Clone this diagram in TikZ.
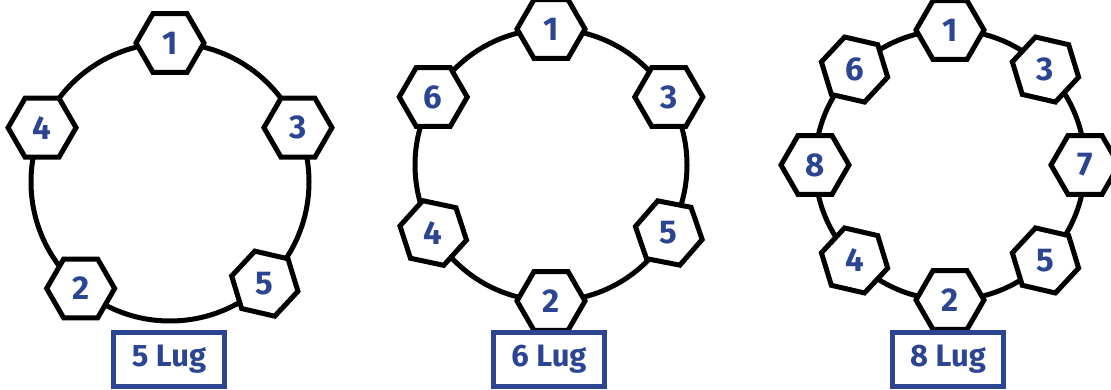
\documentclass[tikz,border=0pt]{standalone}
\usepackage{fontspec}
\setmainfont{Fira Sans}
\usepackage{xcolor}
\usetikzlibrary{shapes.geometric,positioning,calc}

\definecolor{lugblue}{HTML}{2B4592}

\tikzset{
    lug/.style={draw, line width=5pt, fill=white, regular polygon, regular polygon sides=6,
        minimum size=68pt, inner sep=0pt, text=lugblue, font=\fontsize{33}{33}\selectfont\bfseries},
    tilt/.style={regular polygon rotate=-13},
    rim/.style={draw, line width=5pt},
    caption/.style={draw=lugblue, line width=5pt, minimum width=111pt, minimum height=54pt,
        text=lugblue, font=\fontsize{31}{31}\selectfont\bfseries}
}

\begin{document}
\begin{tikzpicture}[x=1pt, y=1pt]
    \useasboundingbox (0,0) rectangle (1111,390);

    % 5 lug
    \coordinate (c5) at (170,208);
    \draw[rim] (c5) circle (139);
    \node (a1) [lug] at ($(c5)+(90:139)$) {1};
    \node (a3) [lug] at ($(c5)+(23:139)$) {3};
    \node (a5) [lug, tilt] at ($(c5)+(-47:139)$) {5};
    \node (a2) [lug] at ($(c5)+(-130:139)$) {2};
    \node (a4) [lug] at ($(c5)+(157:139)$) {4};
    \node (l5) [caption] at (169,30.5) {5 Lug};

    % 6 lug
    \coordinate (c6) at (551,225);
    \draw[rim] (c6) circle (136);
    \node (b1) [lug] at ($(c6)+(90:136)$) {1};
    \node (b3) [lug] at ($(c6)+(30:136)$) {3};
    \node (b5) [lug, regular polygon rotate=-11] at ($(c6)+(-30:136)$) {5};
    \node (b2) [lug] at ($(c6)+(-90:136)$) {2};
    \node (b4) [lug, regular polygon rotate=-12] at ($(c6)+(-150:136)$) {4};
    \node (b6) [lug] at ($(c6)+(150:136)$) {6};
    \node (l6) [caption] at (549,30.5) {6 Lug};

    % 8 lug
    \coordinate (c8) at (950,225);
    \draw[rim] (c8) circle (135);
    \node (d1) [lug] at ($(c8)+(90:135)$) {1};
    \node (d3) [lug, tilt] at ($(c8)+(45:135)$) {3};
    \node (d7) [lug] at ($(c8)+(0:135)$) {7};
    \node (d5) [lug, tilt] at ($(c8)+(-45:135)$) {5};
    \node (d2) [lug] at ($(c8)+(-90:135)$) {2};
    \node (d4) [lug, tilt] at ($(c8)+(-135:135)$) {4};
    \node (d8) [lug] at ($(c8)+(180:135)$) {8};
    \node (d6) [lug, tilt] at ($(c8)+(135:135)$) {6};
    \node (l8) [caption] at (948,30.5) {8 Lug};
\end{tikzpicture}
\end{document}
